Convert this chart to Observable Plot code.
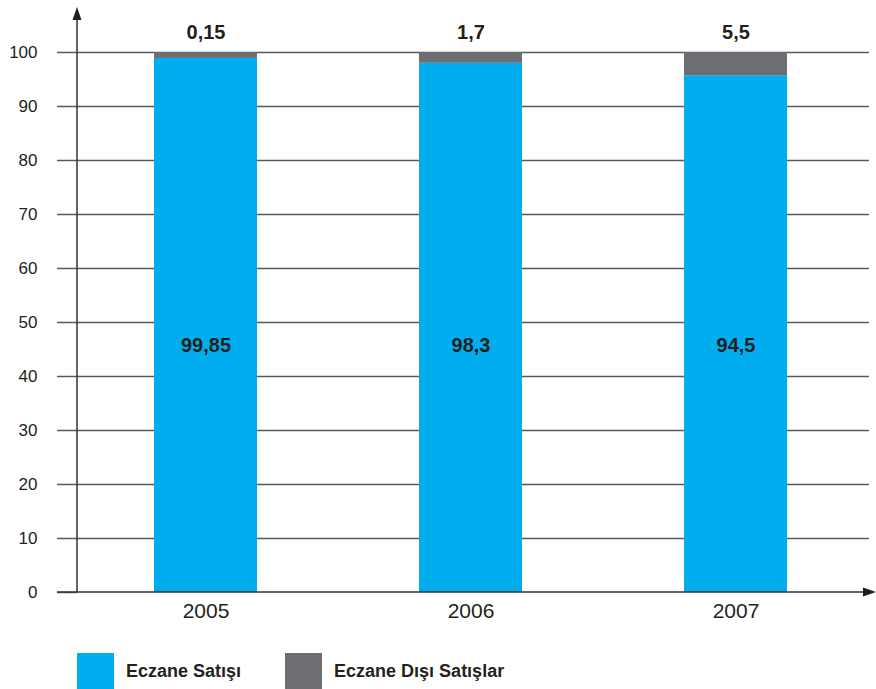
<!DOCTYPE html>
<html>
<head>
<meta charset="utf-8">
<script src="https://cdn.jsdelivr.net/npm/d3@7"></script>
<script src="https://cdn.jsdelivr.net/npm/@observablehq/plot@0.6"></script>
<style>
  html, body { margin: 0; padding: 0; background: #fff; }
  body { width: 876px; height: 689px; overflow: hidden; font-family: "Liberation Sans", Arial, sans-serif; }
  #legend { display: flex; align-items: center; margin-left: 77px; margin-top: 23px; }
  .item { display: flex; align-items: center; }
  .sw { width: 37px; height: 36px; }
  .lab { font-weight: bold; font-size: 18px; color: #231f20; margin-left: 12px; }
</style>
</head>
<body>
<div id="chart"></div>
<div id="legend"></div>
<script>
const years = ["2005", "2006", "2007"];
const eczane = [98.9, 98.0, 95.7];
const disi = [1.1, 2.0, 4.3];
const eczaneLabels = ["99,85", "98,3", "94,5"];
const disiLabels = ["0,15", "1,7", "5,5"];
const series = ["Eczane Satışı", "Eczane Dışı Satışlar"];
const colors = ["#00aeef", "#6d6e71"];
const yTicks = [0, 10, 20, 30, 40, 50, 60, 70, 80, 90, 100];

const rows = [];
years.forEach((yr, i) => {
  rows.push({year: yr, series: series[0], value: eczane[i], label: eczaneLabels[i]});
  rows.push({year: yr, series: series[1], value: disi[i], label: disiLabels[i]});
});

const W = 876, H = 630, mL = 77, mR = 7, mT = 52, mB = 38;

const plot = Plot.plot({
  width: W, height: H,
  marginLeft: mL, marginRight: mR, marginTop: mT, marginBottom: mB,
  style: {fontFamily: "'Liberation Sans', Arial, sans-serif", color: "#231f20", background: "#fff"},
  x: {domain: years, paddingInner: 0.613, paddingOuter: 0.297, align: 0.48, label: null},
  y: {domain: [0, 100], label: null},
  color: {domain: series, range: colors},
  marks: [
    Plot.ruleY(yTicks.filter(d => d > 0), {stroke: "#58595b", strokeWidth: 1.5}),
    Plot.barY(rows, {x: "year", y: "value", fill: "series", order: series}),
    Plot.text(rows.filter(d => d.series === series[1]), {x: "year", y: 100, dy: -20, text: "label", fontWeight: "bold", fontSize: 20, fill: "#231f20"}),
    Plot.text(rows.filter(d => d.series === series[0]), {x: "year", frameAnchor: "middle", dy: 23, text: "label", fontWeight: "bold", fontSize: 20, fill: "#231f20"}),
    Plot.axisY({ticks: yTicks, tickSize: 20, tickPadding: 20, fontSize: 17, stroke: "#58595b", strokeWidth: 1.5, tickFormat: d => String(d), fill: "#231f20"}),
    Plot.axisX({tickSize: 0, tickPadding: 11, fontSize: 21, fill: "#231f20"})
  ]
});
document.getElementById("chart").appendChild(plot);

// axis lines with arrows
const ys = plot.scale("y");
const svg = d3.select(plot);
const y0 = ys.apply(0);
const g = svg.append("g").attr("stroke", "#333").attr("fill", "#231f20");
g.append("line").attr("x1", mL).attr("x2", mL).attr("y1", y0).attr("y2", 14).attr("stroke-width", 1.5);
g.append("path").attr("d", `M${mL},7 L${mL - 4.5},20 L${mL + 4.5},20 Z`).attr("stroke", "none");
g.append("line").attr("x1", mL - 20).attr("x2", W - 8).attr("y1", y0).attr("y2", y0).attr("stroke-width", 1.5);
g.append("path").attr("d", `M${W},${y0} L${W - 13},${y0 - 4.5} L${W - 13},${y0 + 4.5} Z`).attr("stroke", "none");

// legend
const leg = d3.select("#legend");
series.forEach((s, i) => {
  const it = leg.append("div").attr("class", "item").style("margin-right", i === 0 ? "44px" : "0");
  it.append("div").attr("class", "sw").style("background", colors[i]);
  it.append("div").attr("class", "lab").text(s);
});
</script>
</body>
</html>
